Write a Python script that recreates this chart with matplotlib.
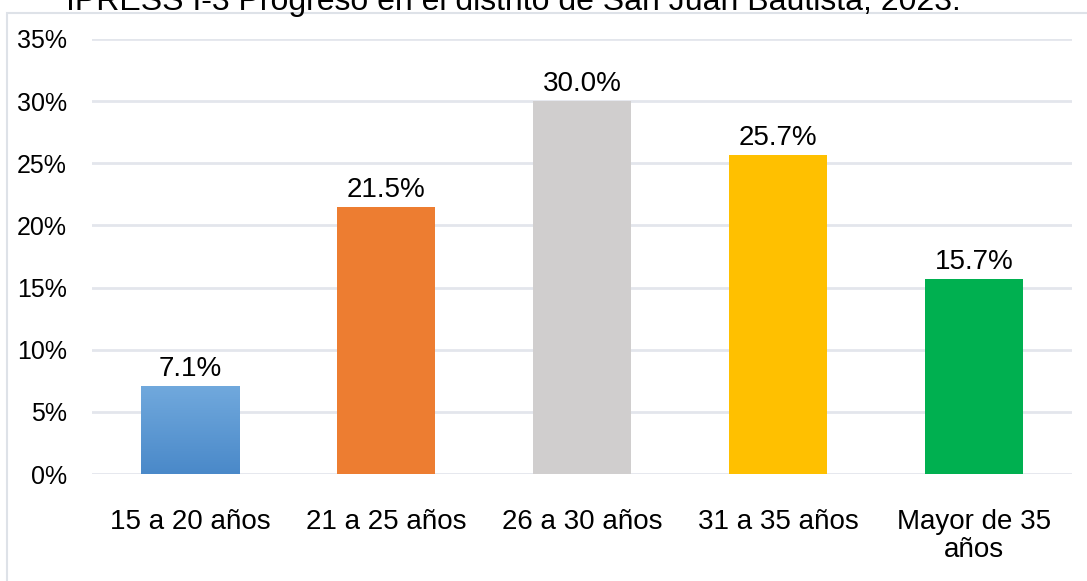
import numpy as np
import matplotlib.pyplot as plt
from matplotlib.patches import Rectangle
from matplotlib.colors import LinearSegmentedColormap

plt.rcParams['font.family'] = ['Liberation Sans', 'DejaVu Sans']

# data
categories = ['15 a 20 años', '21 a 25 años', '26 a 30 años', '31 a 35 años', 'Mayor de 35\naños']
values = [7.1, 21.5, 30.0, 25.7, 15.7]
bar_colors = ['#5B9BD5', '#ED7D31', '#D0CECE', '#FFC000', '#00B050']
title = 'IPRESS I-3 Progreso en el distrito de San Juan Bautista, 2023.'

W, H = 1087, 581
fig = plt.figure(figsize=(W / 100, H / 100), dpi=100)

# outer chart frame (partly cut off in the original)
fig.patches.append(Rectangle((7 / W, -0.2), 1.2, 1.2 - 13 / H,
                             transform=fig.transFigure, fill=False,
                             edgecolor='#DEE2E8', linewidth=1.5))
# title, only its lower half is inside the picture
fig.text(66 / W, 1 - 10 / H, title, fontsize=23, va='baseline', ha='left', color='black')

ax = fig.add_axes([92 / W, 1 - 474 / H, 980 / W, 435 / H])
x = np.arange(len(categories))
bars = ax.bar(x, values, width=0.505, color=bar_colors, zorder=3)

# gradient on first bar
grad = LinearSegmentedColormap.from_list('blu', ['#4A89C9', '#71A9DD'])
b0 = bars[0]
img = ax.imshow(np.linspace(0, 1, 100).reshape(-1, 1), cmap=grad, aspect='auto',
                origin='lower', zorder=3.5,
                extent=[b0.get_x(), b0.get_x() + b0.get_width(), 0, b0.get_height()])
img.set_clip_path(b0)

for b, v in zip(bars, values):
    ax.annotate(f'{v:.1f}%', (b.get_x() + b.get_width() / 2, v), xytext=(0, 7),
                textcoords='offset points', ha='center', va='baseline', fontsize=20)

ax.set_xlim(-0.5, len(categories) - 0.5)
ax.set_ylim(0, 35)
ax.set_yticks(np.arange(0, 36, 5))
ax.set_yticklabels([f'{t}%' for t in range(0, 36, 5)], fontsize=18)
ax.set_xticks(x)
ax.set_xticklabels(categories, fontsize=20, linespacing=1.1)
ax.tick_params(axis='both', length=0)
ax.tick_params(axis='x', pad=25)
ax.tick_params(axis='y', pad=18)
ax.grid(axis='y', color='#E3E6EC', linewidth=2, zorder=0)
for s in ax.spines.values():
    s.set_visible(False)

fig.savefig('out.png', dpi=100)
